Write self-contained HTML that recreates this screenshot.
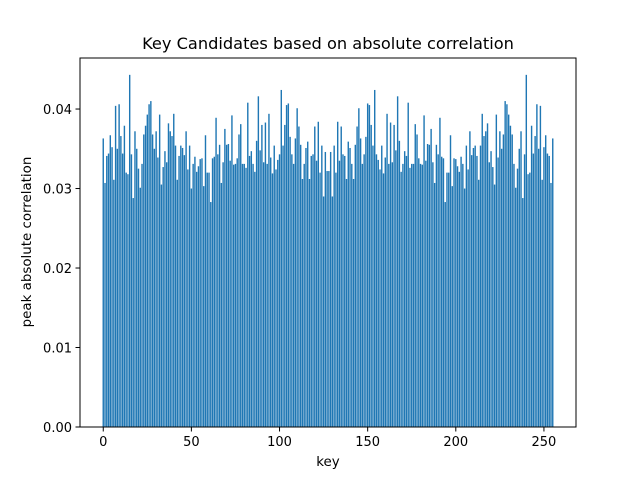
<!DOCTYPE html>
<html><head><meta charset="utf-8"><style>
body{margin:0;background:#fff;}
svg{display:block;font-family:"DejaVu Sans","Liberation Sans",sans-serif;}
</style></head><body>
<svg id="chart" width="640" height="480">
<rect width="640" height="480" fill="#fff"/>
<text x="328" y="49" font-size="16.2" text-anchor="middle">Key Candidates based on absolute correlation</text>
<g id="bars"></g>
<g id="axes"></g>
<text x="328" y="466" font-size="13.4" text-anchor="middle">key</text>
<text transform="translate(31,242) rotate(-90)" font-size="13.4" text-anchor="middle">peak absolute correlation</text>
</svg>
<script>
const halfValues = [0.0363,0.0307,0.0341,0.0344,0.0367,0.0352,0.0311,0.0404,0.035,0.0406,0.0366,0.0344,0.0379,0.032,0.0318,0.0443,
0.0343,0.0288,0.0372,0.035,0.0325,0.0301,0.0331,0.0368,0.0379,0.0393,0.0406,0.041,0.0368,0.035,0.0372,0.0339,
0.0393,0.0305,0.0327,0.0347,0.0333,0.0382,0.0372,0.0366,0.0394,0.0354,0.0311,0.0341,0.0354,0.0351,0.0342,0.0372,
0.0324,0.0354,0.03,0.0331,0.034,0.0321,0.0328,0.0337,0.0338,0.0303,0.0367,0.032,0.032,0.0283,0.0338,0.034,
0.0389,0.0343,0.0355,0.0307,0.0333,0.0375,0.0355,0.0356,0.0335,0.0392,0.033,0.0331,0.0338,0.0368,0.0381,0.0331,
0.0331,0.0326,0.0408,0.0341,0.0347,0.0331,0.0321,0.036,0.0416,0.0348,0.038,0.0333,0.0383,0.0331,0.0394,0.0339,
0.0319,0.0354,0.0324,0.0336,0.0343,0.0424,0.0354,0.038,0.0405,0.0407,0.0365,0.0343,0.0331,0.0363,0.0401,0.0378,
0.0355,0.0312,0.0331,0.0351,0.0359,0.0312,0.0341,0.0343,0.0378,0.0335,0.0384,0.032,0.0354,0.029,0.0346,0.0322];
const values = halfValues.concat(halfValues.slice().reverse());
const keys = values.map((v,i)=>i);
const yTicks = [0,0.01,0.02,0.03,0.04];
const yTickLabels = ["0.00","0.01","0.02","0.03","0.04"];
const xTicks = [0,50,100,150,200,250];

const L=80,R=576,T=58,B=427;
const xMin=-13.19,xMax=268.19,yMax=0.04642;
const NS="http://www.w3.org/2000/svg";
const xs=v=>L+(v-xMin)/(xMax-xMin)*(R-L);
const ys=v=>B-v/yMax*(B-T);
const bars=document.getElementById('bars');
keys.forEach((k,i)=>{
  const r=document.createElementNS(NS,'rect');
  const x0=xs(k-0.4),x1=xs(k+0.4);
  r.setAttribute('x',x0);r.setAttribute('width',x1-x0);
  r.setAttribute('y',ys(values[i]));r.setAttribute('height',B-ys(values[i]));
  r.setAttribute('fill','#1f77b4');
  
  
  bars.appendChild(r);
});
const ax=document.getElementById('axes');
function el(tag,attrs,text){const e=document.createElementNS(NS,tag);for(const a in attrs)e.setAttribute(a,attrs[a]);if(text!==undefined)e.textContent=text;ax.appendChild(e);return e;}
const frame=el('rect',{x:L,y:T,width:R-L,height:B-T,fill:'none',stroke:'#000','stroke-width':1});


yTicks.forEach((t,i)=>{
  const y=ys(t);
  const l=el('line',{x1:L-4.5,x2:L,y1:y,y2:y,stroke:'#000','stroke-width':1});
  
  
  const tx=el('text',{x:L-8,y:y+4.8,'font-size':13,'text-anchor':'end'},yTickLabels[i]);
  
  
});
xTicks.forEach(t=>{
  const x=xs(t);
  const l=el('line',{x1:x,x2:x,y1:B,y2:B+4.5,stroke:'#000','stroke-width':1});
  
  
  const tx=el('text',{x:x,y:B+19,'font-size':13,'text-anchor':'middle'},String(t));
  
  
});
</script>
</body></html>
